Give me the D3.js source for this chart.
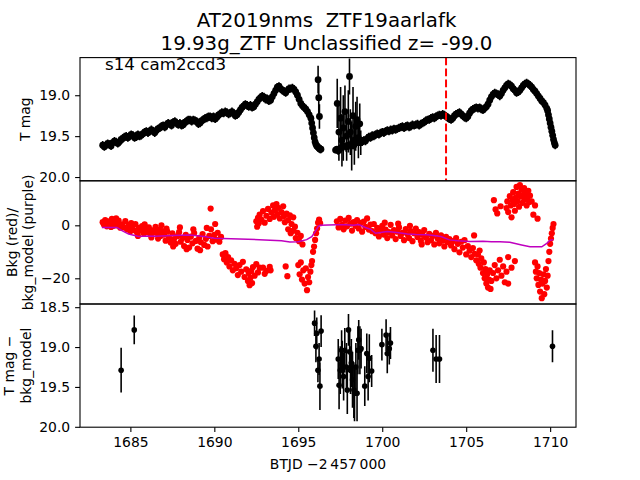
<!DOCTYPE html>
<html><head><meta charset="utf-8">
<script src="https://cdn.jsdelivr.net/npm/d3@7"></script>
<style>body{margin:0;background:#fff}svg{display:block;font-family:"DejaVu Sans",sans-serif}</style>
</head><body><svg id="c" width="640" height="480"></svg>
<script>
const titleLines = ["AT2019nms  ZTF19aarlafk", "19.93g_ZTF Unclassified z= -99.0"];
const sectorLabel = "s14 cam2ccd3";
const xLabel = "BTJD \u22122\u2009457\u2009000";
const yLabelTop = ["T mag"];
const yLabelMid = ["Bkg (red)/", "bkg_model (purple)"];
const yLabelBot = ["T mag \u2212", "bkg_model"];
const xTicks = [1685, 1690, 1695, 1700, 1705, 1710];
const yTicksTop = [19.0, 19.5, 20.0];
const yTicksMid = [0, -20];
const yTicksBot = [18.5, 19.0, 19.5, 20.0];
const markerDay = 1703.8;
const bandErr = 0.05;

// top panel light curve: [day, mag] (error = bandErr)
const topOrbit1 = [
[1683.35,19.61],[1683.45,19.63],[1683.55,19.61],[1683.65,19.59],[1683.75,19.60],[1683.85,19.62],[1683.95,19.58],
[1684.05,19.56],[1684.15,19.57],[1684.25,19.59],[1684.35,19.57],[1684.45,19.54],[1684.55,19.53],[1684.65,19.51],
[1684.75,19.50],[1684.85,19.52],[1684.95,19.50],[1685.05,19.48],[1685.15,19.49],[1685.25,19.52],[1685.35,19.51],
[1685.45,19.48],[1685.55,19.50],[1685.65,19.49],[1685.75,19.47],[1685.85,19.45],[1685.95,19.44],[1686.05,19.46],
[1686.15,19.44],[1686.25,19.42],[1686.35,19.44],[1686.45,19.46],[1686.55,19.43],[1686.65,19.41],[1686.75,19.40],
[1686.85,19.38],[1686.95,19.37],[1687.05,19.39],[1687.15,19.36],[1687.25,19.34],[1687.35,19.35],[1687.45,19.37],
[1687.55,19.33],[1687.65,19.32],[1687.75,19.34],[1687.85,19.36],[1687.95,19.34],[1688.05,19.37],[1688.15,19.36],
[1688.25,19.33],[1688.35,19.32],[1688.45,19.30],[1688.55,19.30],[1688.65,19.32],[1688.75,19.30],[1688.85,19.31],
[1688.95,19.32],[1689.05,19.35],[1689.15,19.34],[1689.25,19.31],[1689.35,19.30],[1689.45,19.28],[1689.55,19.28],
[1689.65,19.26],[1689.75,19.26],[1689.85,19.28],[1689.95,19.26],[1690.05,19.29],[1690.15,19.27],[1690.25,19.24],
[1690.35,19.23],[1690.45,19.21],[1690.55,19.22],[1690.65,19.20],[1690.75,19.21],[1690.85,19.23],[1690.95,19.22],
[1691.05,19.20],[1691.15,19.22],[1691.25,19.25],[1691.35,19.24],[1691.45,19.21],[1691.55,19.18],[1691.65,19.15],
[1691.75,19.13],[1691.85,19.11],[1691.95,19.12],[1692.05,19.14],[1692.15,19.12],[1692.25,19.15],[1692.35,19.14],
[1692.45,19.11],[1692.55,19.08],[1692.65,19.05],[1692.75,19.03],[1692.85,19.01],[1692.95,19.02],[1693.05,19.05],
[1693.15,19.04],[1693.25,19.07],[1693.35,19.06],[1693.45,19.02],[1693.55,18.98],[1693.65,18.94],[1693.75,18.90],
[1693.85,18.89],[1693.95,18.92],[1694.05,18.94],[1694.15,18.95],[1694.25,18.97],[1694.35,18.94],[1694.45,18.92],
[1694.55,18.92],[1694.65,18.91],[1694.75,18.93],[1694.85,18.96],[1694.95,19.00],[1695.05,19.05],[1695.15,19.10],
[1695.25,19.13],[1695.35,19.15],[1695.45,19.17],[1695.55,19.20],[1695.65,19.24],[1695.75,19.28],[1695.80,19.34],
[1695.85,19.40],[1695.90,19.46],[1695.95,19.52],[1696.00,19.57],[1696.05,19.60],[1696.10,19.62],[1696.15,19.63],
[1696.20,19.64],[1696.25,19.65],[1696.30,19.66],[1696.35,19.66]
];
const topOrbit2 = [
[1698.8,19.57],[1698.9,19.55],[1699.0,19.56],[1699.1,19.53],[1699.2,19.51],[1699.3,19.52],[1699.4,19.49],
[1699.5,19.50],[1699.6,19.48],[1699.7,19.47],[1699.8,19.48],[1699.9,19.46],[1700.0,19.45],[1700.1,19.46],
[1700.2,19.44],[1700.3,19.43],[1700.4,19.44],[1700.5,19.42],[1700.6,19.43],[1700.7,19.41],[1700.8,19.42],
[1700.9,19.41],[1701.0,19.40],[1701.1,19.39],[1701.2,19.38],[1701.3,19.40],[1701.4,19.38],[1701.5,19.37],
[1701.6,19.39],[1701.7,19.38],[1701.8,19.36],[1701.9,19.37],[1702.0,19.36],[1702.1,19.35],[1702.2,19.37],
[1702.3,19.35],[1702.4,19.34],[1702.5,19.33],[1702.6,19.31],[1702.7,19.30],[1702.8,19.30],[1702.9,19.28],
[1703.0,19.27],[1703.1,19.28],[1703.2,19.26],[1703.3,19.25],[1703.4,19.24],[1703.5,19.25],[1703.6,19.23],
[1703.7,19.24],[1703.8,19.26],[1703.9,19.27],[1704.0,19.29],[1704.1,19.30],[1704.2,19.28],[1704.3,19.25],
[1704.4,19.23],[1704.5,19.22],[1704.6,19.21],[1704.7,19.23],[1704.8,19.25],[1704.9,19.27],[1705.0,19.28],
[1705.1,19.26],[1705.2,19.22],[1705.3,19.19],[1705.4,19.17],[1705.5,19.16],[1705.6,19.15],[1705.7,19.16],
[1705.8,19.15],[1705.9,19.17],[1706.0,19.18],[1706.1,19.16],[1706.2,19.14],[1706.3,19.11],[1706.4,19.06],
[1706.5,19.02],[1706.6,18.99],[1706.7,18.97],[1706.8,18.98],[1706.9,18.99],[1707.0,19.01],[1707.1,18.98],
[1707.2,18.94],[1707.3,18.91],[1707.4,18.88],[1707.5,18.86],[1707.6,18.87],[1707.7,18.89],[1707.8,18.92],
[1707.9,18.94],[1708.0,18.97],[1708.1,18.96],[1708.2,18.94],[1708.3,18.91],[1708.4,18.88],[1708.5,18.86],
[1708.6,18.85],[1708.7,18.86],[1708.8,18.88],[1708.9,18.90],[1709.0,18.93],[1709.1,18.95],[1709.2,18.98],
[1709.3,19.01],[1709.4,19.04],[1709.5,19.07],[1709.6,19.09],[1709.7,19.12],[1709.8,19.16],[1709.85,19.19],
[1709.9,19.24],[1709.95,19.29],[1710.0,19.34],[1710.05,19.39],[1710.1,19.44],[1710.15,19.49],[1710.2,19.54],
[1710.25,19.58],[1710.3,19.61]
];
// noisy stretches of the top light curve: [day, mag, err]
const topSpike = [[1696.18,18.81,.17],[1696.22,19.03,.20],[1696.26,19.26,.15]];
const topNoisy = [
[1697.22,19.67,.04],[1697.30,19.66,.04],[1697.38,19.68,.05],[1697.46,19.66,.05],
[1697.55,19.64,.06],[1697.70,19.62,.06],[1697.85,19.63,.06],[1698.00,19.61,.06],[1698.15,19.60,.06],
[1698.30,19.60,.06],[1698.45,19.58,.06],[1698.60,19.57,.05],[1698.72,19.56,.05],
[1697.32,19.10,.30],[1697.42,19.45,.35],[1697.52,19.28,.38],[1697.60,19.55,.32],[1697.68,19.40,.40],
[1697.78,19.20,.32],[1697.88,19.50,.30],[1697.98,19.32,.38],[1698.05,18.77,.22],[1698.10,19.45,.28],
[1698.18,19.62,.30],[1698.26,19.25,.35],[1698.34,19.55,.30],[1698.42,19.38,.30],[1698.50,19.30,.28],
[1698.58,19.52,.25],[1698.66,19.35,.25],[1698.72,19.58,.15]
];

// middle panel: background [day, value]
const bkgPoints = [
[1683.35,1.2],[1683.42,0.3],[1683.5,2.0],[1683.6,-0.4],[1683.7,1.5],[1683.8,0.6],[1683.9,2.4],[1684.0,-0.2],
[1684.1,1.1],[1684.2,0.0],[1684.3,1.8],[1684.4,-0.9],[1684.5,0.4],[1683.55,0.9],[1683.85,-0.6],[1684.15,2.6],
[1684.6,-0.8],[1684.7,1.6],[1684.8,-1.5],[1684.9,0.2],[1685.0,-2.2],[1685.1,-0.6],[1685.2,-1.8],[1685.3,0.5],
[1685.4,-2.8],[1685.5,-1.0],[1685.6,-2.0],[1685.7,-0.3],[1685.8,-3.1],[1685.9,-1.4],[1686.0,-2.5],[1686.1,-0.8],
[1686.2,-3.4],[1686.3,-1.9],[1686.4,-2.7],[1686.5,-0.6],[1686.6,-3.0],[1686.7,-1.6],[1686.8,-4.0],[1686.9,-2.2],
[1685.05,0.8],[1685.45,-4.0],[1685.85,0.4],[1686.25,-4.6],[1686.65,-5.0],[1686.85,0.0],
[1687.0,-3.5],[1687.1,-5.8],[1687.2,-2.4],[1687.3,-4.6],[1687.4,-6.5],[1687.5,-3.0],[1687.6,-5.2],[1687.7,-7.0],
[1687.8,-4.1],[1687.9,-2.6],[1688.0,-6.2],[1688.1,-4.8],[1688.2,-7.8],[1688.3,-3.6],[1688.4,-5.5],[1688.5,-8.4],
[1688.6,-4.3],[1688.7,-6.8],[1688.8,-2.9],[1688.9,-5.9],[1689.0,-8.8],[1689.1,-4.7],[1689.2,-6.4],[1689.3,-3.3],
[1689.4,-7.4],[1689.5,-5.1],[1689.6,-8.0],[1689.7,-4.0],[1689.78,6.3],[1689.8,-1.5],[1689.9,-6.0],
[1687.15,-1.2],[1687.55,-8.0],[1687.95,-0.8],[1688.35,-9.0],[1688.75,-1.5],[1689.15,-9.4],[1689.55,-1.0],
[1690.0,-3.6],[1690.1,-5.4],[1690.2,-2.8],[1690.3,-6.2],[1690.4,-4.4],[1690.05,0.5],
[1690.5,-11.0],[1690.58,-12.8],[1690.66,-10.5],[1690.74,-14.0],[1690.82,-12.0],
[1690.9,-15.5],[1691.0,-13.2],[1691.1,-17.0],[1691.2,-14.5],[1691.3,-16.2],[1691.4,-18.8],[1691.5,-15.0],
[1691.6,-17.5],[1691.7,-13.8],[1691.8,-19.5],[1691.9,-16.6],[1692.0,-21.0],[1692.05,-18.0],[1692.1,-22.6],
[1692.15,-19.8],[1692.2,-17.2],[1692.25,-21.8],[1692.3,-15.8],[1692.4,-19.0],[1692.5,-14.6],[1692.6,-17.8],
[1692.7,-16.0],[1692.9,-16.0],[1693.0,-18.3],[1693.1,-17.2],[1693.3,-15.7],[1693.35,-17.0],
[1692.5,1.5],[1692.55,-0.5],[1692.6,2.8],[1692.65,0.8],[1692.7,4.0],[1692.8,2.2],[1692.9,5.4],[1693.0,1.0],
[1693.1,3.6],[1693.2,6.2],[1693.3,2.4],[1693.4,4.8],[1693.5,7.5],[1693.55,3.2],[1693.6,5.6],[1693.7,8.0],
[1693.75,4.2],[1693.8,6.6],[1693.9,2.6],[1694.0,5.0],[1694.1,7.2],[1694.15,3.5],[1694.2,1.2],[1694.3,4.4],
[1694.4,2.0],[1694.5,3.8],[1694.6,0.5],[1694.7,3.0],[1694.8,-0.5],
[1694.4,-1.5],[1694.55,-3.0],[1694.7,-2.0],[1694.85,-4.8],[1694.95,-2.8],[1695.05,-6.0],[1695.15,-4.0],[1695.25,-7.2],
[1694.25,-15.5],[1694.35,-19.2],
[1695.0,-15.0],[1695.08,-18.5],[1695.15,-14.0],[1695.22,-20.5],[1695.3,-17.0],[1695.38,-22.0],[1695.45,-16.2],
[1695.52,-24.5],[1695.58,-19.5],[1695.65,-21.5],[1695.72,-17.5],[1695.78,-15.0],
[1695.82,-13.5],[1695.88,-10.0],[1695.94,-8.0],[1696.0,-5.5],[1696.06,-3.0],[1696.12,-1.2],[1696.18,1.0],
[1696.24,2.2],[1696.3,0.8],
[1697.3,1.5],[1697.4,-0.8],[1697.5,2.4],[1697.6,0.2],[1697.7,-1.5],[1697.8,1.8],[1697.9,-0.4],[1698.0,2.8],
[1698.1,0.6],[1698.2,-2.0],[1698.3,1.2],[1698.4,-0.2],[1698.5,2.0],[1698.6,-1.2],[1698.7,0.9],[1698.8,-2.4],
[1698.9,1.4],[1699.0,-0.6],[1699.1,2.6],[1699.2,-1.6],[1699.3,0.3],
[1699.4,-2.2],[1699.5,0.5],[1699.6,-3.0],[1699.7,-1.0],[1699.8,-4.2],[1699.9,-2.0],[1700.0,-0.2],[1700.1,-3.5],
[1700.2,-1.6],[1700.3,-4.8],[1700.4,-2.6],[1700.5,0.2],[1700.6,-3.8],[1700.7,-1.8],[1700.8,-5.2],[1700.9,-2.4],
[1701.0,-0.8],[1701.1,-4.0],[1701.2,-2.8],[1701.3,-5.6],[1701.4,-1.4],[1701.5,-3.4],[1701.6,-4.8],[1701.7,-2.2],
[1701.8,-6.0],[1701.9,-3.0],[1702.0,-1.2],[1702.1,-4.4],[1702.2,-2.6],[1702.3,-5.8],[1702.4,-3.6],[1702.5,-1.8],
[1702.6,-4.6],[1702.7,-6.4],[1700.15,1.0],[1700.95,0.6],[1701.65,-0.2],[1702.35,-7.2],
[1702.8,-3.2],[1702.9,-5.6],[1703.0,-4.0],[1703.1,-7.2],[1703.2,-2.8],[1703.3,-5.0],[1703.4,-6.8],[1703.5,-3.8],
[1703.6,-5.8],[1703.7,-8.0],[1703.8,-4.4],[1703.9,-6.4],
[1704.0,-5.2],[1704.1,-7.6],[1704.2,-6.0],[1704.3,-9.0],[1704.4,-4.8],[1704.5,-7.0],[1704.6,-10.2],[1704.7,-6.2],
[1704.8,-8.4],[1704.9,-5.6],[1705.0,-11.0],[1705.1,-7.8],[1705.2,-9.6],[1705.3,-12.0],[1705.4,-8.6],[1705.47,-3.8],
[1705.5,-10.8],[1705.6,-13.2],
[1705.7,-11.0],[1705.75,-14.5],[1705.8,-9.5],[1705.85,-16.0],[1705.9,-12.5],[1706.0,-18.0],[1706.05,-14.0],
[1706.1,-20.0],[1706.15,-16.5],[1706.2,-22.0],[1706.25,-18.5],[1706.3,-23.5],[1706.35,-20.5],[1706.4,-17.0],
[1706.45,-24.0],[1706.5,-21.0],[1706.6,-18.0],[1706.7,-15.0],[1706.8,-20.0],[1706.9,-17.0],[1707.0,-13.0],
[1707.1,-19.0],[1707.2,-15.5],[1707.3,-21.5],[1707.4,-17.5],[1707.5,-22.0],
[1706.65,9.5],[1706.75,6.0],[1706.85,4.5],[1707.05,7.2],
[1707.4,6.5],[1707.45,9.0],[1707.5,5.0],[1707.6,11.0],[1707.65,7.5],[1707.7,3.0],[1707.75,9.5],[1707.8,12.5],
[1707.85,8.0],[1707.9,5.5],[1707.95,10.5],[1708.0,14.5],[1708.05,9.0],[1708.1,12.0],[1708.15,7.0],[1708.2,15.2],
[1708.25,10.8],[1708.3,13.5],[1708.35,8.5],[1708.4,11.5],[1708.45,14.0],[1708.5,9.8],[1708.55,12.5],[1708.6,7.5],
[1708.65,10.5],[1708.7,13.0],[1708.75,8.8],[1708.8,11.2],[1708.9,9.0],[1709.0,4.0],[1709.1,7.5],[1709.25,2.5],
[1707.5,-12.0],[1707.7,-16.0],[1707.9,-13.5],
[1709.1,-14.0],[1709.15,-17.5],[1709.2,-20.0],[1709.25,-15.5],[1709.3,-22.5],[1709.35,-18.0],[1709.4,-25.0],
[1709.45,-20.5],[1709.5,-27.5],[1709.55,-22.0],[1709.6,-18.5],[1709.65,-26.0],[1709.7,-21.0],[1709.75,-16.5],
[1709.8,-23.5],[1709.85,-19.0],
[1709.9,-13.5],[1709.95,-10.0],[1710.0,-7.0],[1710.05,-5.0],[1710.1,-3.0],[1710.15,-1.0],[1710.2,0.5]
];
// middle panel: background model [day, value]
const bkgModel = [
[1683.3,-0.8],[1684.2,-0.8],[1684.5,-2.0],[1684.9,-3.3],[1685.5,-4.2],[1686.0,-4.0],[1686.5,-4.1],[1687.5,-3.8],
[1688.5,-3.7],[1689.0,-3.9],[1689.5,-4.3],[1690.0,-4.9],[1691.0,-5.1],[1692.0,-5.3],[1693.0,-5.5],[1694.0,-5.8],
[1694.5,-6.3],[1695.0,-6.2],[1695.5,-5.4],[1695.8,-4.3],[1696.0,-2.5],[1696.2,-0.4],[1696.3,0.0],
[1697.3,0.2],[1697.8,0.2],[1698.3,0.0],[1698.6,0.3],[1699.0,-0.8],[1699.3,-1.5],[1699.6,-3.0],[1700.0,-2.6],
[1700.3,-2.3],[1701.0,-2.8],[1701.5,-3.3],[1702.0,-3.5],[1702.7,-3.6],[1703.5,-4.2],[1704.0,-5.5],[1704.5,-5.8],
[1705.2,-6.1],[1706.0,-6.0],[1706.5,-6.2],[1707.0,-6.2],[1707.6,-6.4],[1708.3,-7.4],[1708.8,-8.1],[1709.5,-8.1],
[1709.8,-6.8],[1710.0,-5.6],[1710.2,-5.4]
];

// bottom panel: [day, mag, err]
const diffPoints = [
[1684.45,19.29,.28],[1685.23,18.785,.18],
[1695.97,18.70,.16],[1696.05,18.99,.20],[1696.10,18.83,.20],[1696.17,19.29,.15],[1696.24,19.15,.20],
[1696.29,19.49,.30],[1696.36,18.80,.20],
[1697.38,19.15,.25],[1697.43,19.48,.30],[1697.50,19.29,.30],[1697.58,19.04,.25],[1697.62,19.22,.30],
[1697.70,19.37,.30],[1697.77,19.04,.28],[1697.87,19.25,.30],[1697.92,19.54,.30],[1697.99,18.785,.20],
[1698.06,19.06,.25],[1698.11,19.29,.30],[1698.16,19.20,.30],[1698.23,19.41,.35],[1698.31,19.54,.35],
[1698.35,19.58,.35],[1698.43,19.25,.30],[1698.50,19.58,.35],[1698.55,19.04,.30],[1698.60,18.91,.25],
[1698.67,19.04,.30],[1698.74,19.02,.25],[1698.96,19.49,.25],[1699.08,19.08,.25],[1699.16,19.37,.30],
[1699.23,19.14,.30],[1699.37,19.30,.20],
[1699.98,18.97,.20],[1700.23,18.85,.20],[1700.30,19.08,.25],[1700.42,19.02,.20],[1700.49,18.95,.20],
[1703.02,19.04,.27],[1703.21,19.15,.30],[1703.41,19.15,.30],
[1710.14,18.99,.20]
];

const svg = d3.select("#c");
svg.append("rect").attr("width",640).attr("height",480).attr("fill","#fff");
const L=80, R=576, T0=57.6, H=123.2;
const panels = [T0, T0+H, T0+2*H];
const x = d3.scaleLinear().domain([1682.0, 1711.54]).range([L, R]);
const yTop = d3.scaleLinear().domain([18.54, 20.046]).range([panels[0], panels[0]+H]);
const yMid = d3.scaleLinear().domain([16.8, -29.7]).range([panels[1], panels[1]+H]);
const yBot = d3.scaleLinear().domain([18.46, 20.005]).range([panels[2], panels[2]+H]);

function clip(id, top){
  svg.append("clipPath").attr("id",id).append("rect").attr("x",L).attr("y",top).attr("width",R-L).attr("height",H);
}
clip("cp0",panels[0]); clip("cp1",panels[1]); clip("cp2",panels[2]);

function errPlot(g, data, y, r){
  g.selectAll(null).data(data).enter().append("line")
    .attr("x1",d=>x(d[0])).attr("x2",d=>x(d[0]))
    .attr("y1",d=>y(d[1]-d[2])).attr("y2",d=>y(d[1]+d[2]))
    .attr("stroke","#000").attr("stroke-width",1.6);
  g.selectAll(null).data(data).enter().append("circle")
    .attr("cx",d=>x(d[0])).attr("cy",d=>y(d[1])).attr("r",r).attr("fill","#000");
}

// top panel
const g0 = svg.append("g").attr("clip-path","url(#cp0)");
const band = topOrbit1.concat(topOrbit2).map(d=>[d[0], d[1], bandErr]);
errPlot(g0, band.concat(topSpike, topNoisy), yTop, 3.4);
g0.append("line").attr("x1",x(markerDay)).attr("x2",x(markerDay))
  .attr("y1",panels[0]).attr("y2",panels[0]+H)
  .attr("stroke","#ff0000").attr("stroke-width",2).attr("stroke-dasharray","7.7,3.3");

// middle panel
const g1 = svg.append("g").attr("clip-path","url(#cp1)");
g1.selectAll(null).data(bkgPoints).enter().append("circle")
  .attr("cx",d=>x(d[0])).attr("cy",d=>yMid(d[1])).attr("r",3.1).attr("fill","#ff0000");
g1.append("path").datum(bkgModel)
  .attr("d", d3.line().x(d=>x(d[0])).y(d=>yMid(d[1])))
  .attr("fill","none").attr("stroke","#bf00bf").attr("stroke-width",1.5);

// bottom panel
const g2 = svg.append("g").attr("clip-path","url(#cp2)");
errPlot(g2, diffPoints, yBot, 2.8);

// axes
function yAxis(scale, ticks, fmt){
  const a = svg.append("g").attr("transform",`translate(${L},0)`)
    .call(d3.axisLeft(scale).tickValues(ticks).tickSize(4.9).tickPadding(4.9).tickFormat(fmt));
  a.select(".domain").remove();
  a.selectAll("line").attr("stroke","#000").attr("stroke-width",1.1);
  a.selectAll("text").attr("font-size",13.9).attr("fill","#000").attr("font-family","DejaVu Sans");
}
const f1 = d => d3.format(".1f")(d);
const fm = d => d<0 ? "\u2212"+Math.abs(d) : String(d);
yAxis(yTop, yTicksTop, f1);
yAxis(yMid, yTicksMid, fm);
yAxis(yBot, yTicksBot, f1);

const xa = svg.append("g").attr("transform",`translate(0,${panels[2]+H})`)
  .call(d3.axisBottom(x).tickValues(xTicks).tickSize(4.9).tickPadding(4.9).tickFormat(d3.format("d")));
xa.select(".domain").remove();
xa.selectAll("line").attr("stroke","#000").attr("stroke-width",1.1);
xa.selectAll("text").attr("font-size",13.9).attr("fill","#000").attr("font-family","DejaVu Sans");

// frames
panels.forEach(p=>{
  svg.append("rect").attr("x",L).attr("y",p).attr("width",R-L).attr("height",H)
    .attr("fill","none").attr("stroke","#000").attr("stroke-width",1.1);
});

// texts
const tcx = 326.5;
svg.append("text").attr("x",tcx).attr("y",27).attr("text-anchor","middle").attr("font-size",19.8)
  .style("white-space","pre").text(titleLines[0]);
svg.append("text").attr("x",tcx).attr("y",50).attr("text-anchor","middle").attr("font-size",19.8)
  .style("white-space","pre").text(titleLines[1]);
svg.append("text").attr("x",105).attr("y",69.5).attr("font-size",16.7).text(sectorLabel);
svg.append("text").attr("x",(L+R)/2).attr("y",469).attr("text-anchor","middle").attr("font-size",13.9).text(xLabel);

function yLabel(lines, yc, xs){
  lines.forEach((s,i)=>{
    svg.append("text").attr("transform",`translate(${xs[i]},${yc}) rotate(-90)`)
      .attr("text-anchor","middle").attr("font-size",13.9).text(s);
  });
}
yLabel(yLabelTop, panels[0]+H/2, [30]);
yLabel(yLabelMid, panels[1]+H/2, [17, 33]);
yLabel(yLabelBot, panels[2]+H/2, [14, 30.5]);
</script></body></html>
